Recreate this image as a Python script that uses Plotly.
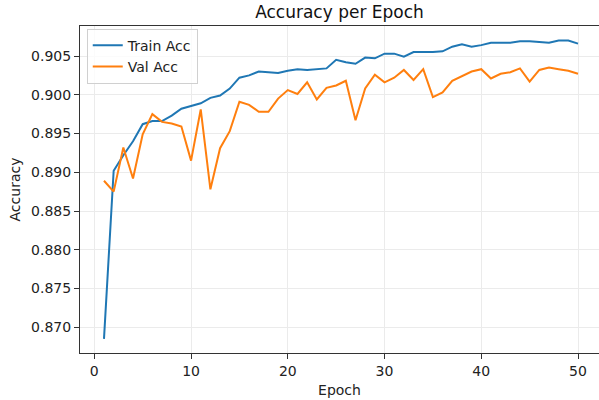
import plotly.graph_objects as go

epochs = list(range(1, 51))
train_acc = [0.8685, 0.8902, 0.8922, 0.8940, 0.8962, 0.8966, 0.8966, 0.8973, 0.8982, 0.8986,
             0.8989, 0.8996, 0.8999, 0.9008, 0.9022, 0.9025, 0.9030, 0.9029, 0.9028, 0.9031,
             0.9033, 0.9032, 0.9033, 0.9034, 0.9045, 0.9042, 0.9040, 0.9048, 0.9047, 0.9053,
             0.9053, 0.9049, 0.9055, 0.9055, 0.9055, 0.9056, 0.9062, 0.9065, 0.9062, 0.9064,
             0.9067, 0.9067, 0.9067, 0.9069, 0.9069, 0.9068, 0.9067, 0.9070, 0.9070, 0.9066]
val_acc = [0.8889, 0.8875, 0.8932, 0.8892, 0.8949, 0.8975, 0.8965, 0.8963, 0.8959, 0.8915,
           0.8981, 0.8878, 0.8931, 0.8953, 0.8991, 0.8987, 0.8978, 0.8978, 0.8995, 0.9006,
           0.9001, 0.9016, 0.8994, 0.9009, 0.9012, 0.9018, 0.8967, 0.9008, 0.9026, 0.9016,
           0.9022, 0.9032, 0.9019, 0.9033, 0.8997, 0.9003, 0.9018, 0.9024, 0.9030, 0.9033,
           0.9021, 0.9027, 0.9029, 0.9034, 0.9017, 0.9032, 0.9035, 0.9033, 0.9031, 0.9027]
x_ticks = [0, 10, 20, 30, 40, 50]
y_ticks = [0.870, 0.875, 0.880, 0.885, 0.890, 0.895, 0.900, 0.905]

FONT = "DejaVu Sans"

fig = go.Figure()
fig.add_trace(go.Scatter(x=epochs, y=train_acc, mode="lines", name="Train Acc",
                         line=dict(color="#1f77b4", width=2)))
fig.add_trace(go.Scatter(x=epochs, y=val_acc, mode="lines", name="Val Acc",
                         line=dict(color="#ff7f0e", width=2)))

axis_common = dict(
    showgrid=True, gridcolor="#ebebeb", gridwidth=1,
    showline=True, linecolor="#333333", linewidth=1,
    ticks="outside", ticklen=5, tickwidth=1, tickcolor="#333333",
    tickfont=dict(family=FONT, size=14, color="#222222"),
    zeroline=False, automargin=False,
)

fig.update_layout(
    width=599, height=400,
    margin=dict(l=80, r=0, t=26, b=47),
    paper_bgcolor="white", plot_bgcolor="white",
    font=dict(family=FONT, color="#222222"),
    title=dict(text="Accuracy per Epoch", x=0.5, xref="paper", y=1 - 12 / 400,
               yref="container", xanchor="center", yanchor="middle",
               font=dict(family=FONT, size=17, color="#111111")),
    xaxis=dict(range=[-1.48, 52.17], tickvals=x_ticks, mirror=True,
               title=dict(text="Epoch", font=dict(family=FONT, size=14), standoff=7),
               **axis_common),
    yaxis=dict(range=[0.86668, 0.90887], tickvals=y_ticks, tickformat=".3f",
               title=dict(text="Accuracy", font=dict(family=FONT, size=14), standoff=7),
               **axis_common),
    legend=dict(x=0.013, y=0.992, xanchor="left", yanchor="top",
                bgcolor="rgba(255,255,255,0.8)", bordercolor="#d0d0d0", borderwidth=1,
                font=dict(family=FONT, size=14, color="#222222"),
                tracegroupgap=0, itemwidth=30),
    showlegend=True,
)

fig.write_html("out.html", config={"displayModeBar": False},
               post_script="document.body.style.margin='0';")
